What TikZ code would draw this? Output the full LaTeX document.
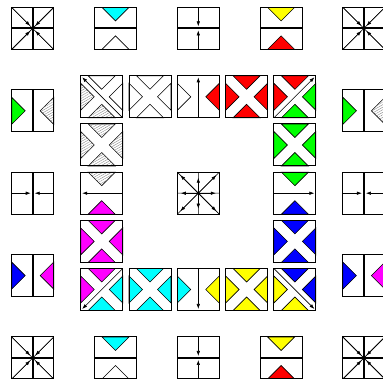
\documentclass[tikz,border=0pt]{standalone}
\usetikzlibrary{arrows.meta,patterns.meta}
\definecolor{cy}{RGB}{0,255,255}
\definecolor{mg}{RGB}{255,0,255}
\definecolor{gr}{RGB}{0,255,0}
\definecolor{ye}{RGB}{255,255,0}
\definecolor{rd}{RGB}{255,0,0}
\definecolor{bl}{RGB}{0,0,255}
\tikzset{
  bord/.style={draw=black, line width=1pt},
  tri/.style={draw=black, line width=0.6pt},
  midline/.style={line width=2pt},
  fine/.style={line width=0.6pt},
  arr/.style={-{Latex[length=5pt,width=3.5pt]}, line width=0.6pt},
  hatchfill/.style={fill=white, postaction={pattern={Lines[angle=30,distance=2.2pt,line width=0.35pt]}, pattern color=gray}},
}
\newcommand{\TrT}[1]{\path[tri,#1] (7.5,0) -- (34.5,0) -- (21,13.5) -- cycle;}
\newcommand{\TrB}[1]{\path[tri,#1] (7.5,42) -- (34.5,42) -- (21,28.5) -- cycle;}
\newcommand{\TrL}[1]{\path[tri,#1] (0,7.5) -- (0,34.5) -- (13.5,21) -- cycle;}
\newcommand{\TrR}[1]{\path[tri,#1] (42,7.5) -- (42,34.5) -- (28.5,21) -- cycle;}
\newcommand{\Xtile}[4]{\TrT{#1}\TrR{#2}\TrB{#3}\TrL{#4}}
\newcommand{\Bord}{\draw[bord] (0,0) rectangle (42,42);}
\newcommand{\StarTile}{%
  \draw[fine] (0,0) -- (42,42) (42,0) -- (0,42);
  \draw[midline] (21,0) -- (21,42) (0,21) -- (42,21);
  \draw[arr] (0,0) -- (18.5,18.5);
  \draw[arr] (42,0) -- (23.5,18.5);
  \draw[arr] (0,42) -- (18.5,23.5);
  \draw[arr] (42,42) -- (23.5,23.5);
  \Bord}
\newcommand{\VArrTile}{%
  \draw[midline] (0,21) -- (42,21);
  \draw[arr] (21,0) -- (21,19);
  \draw[arr] (21,42) -- (21,23);
  \Bord}
\newcommand{\HArrTile}{%
  \draw[midline] (21,0) -- (21,42);
  \draw[arr] (0,21) -- (19,21);
  \draw[arr] (42,21) -- (23,21);
  \Bord}
\newcommand{\TB}[2]{\TrT{#1}\TrB{#2}\draw[midline] (0,21) -- (42,21);\Bord}
\newcommand{\LR}[2]{\TrL{#1}\TrR{#2}\draw[midline] (21,0) -- (21,42);\Bord}
\begin{document}
\begin{tikzpicture}[x=1pt,y=-1pt]
\useasboundingbox (0,0) rectangle (383,379);
\clip (0,0) rectangle (383,379);
\fill[white] (0,0) rectangle (383,379);
% ---------- outer ring ----------
% row 0
\begin{scope}[shift={(11.7,7.4)}]\StarTile\end{scope}
\begin{scope}[shift={(94.5,7.4)}]\TB{fill=cy}{fill=white}\end{scope}
\begin{scope}[shift={(177.3,7.4)}]\VArrTile\end{scope}
\begin{scope}[shift={(260.1,7.4)}]\TB{fill=ye}{fill=rd}\end{scope}
\begin{scope}[shift={(342.9,7.4)}]\StarTile\end{scope}
% row 1
\begin{scope}[shift={(11.7,89.8)}]\LR{fill=gr}{hatchfill}\end{scope}
\begin{scope}[shift={(342.9,89.8)}]\LR{fill=gr}{hatchfill}\end{scope}
% row 2
\begin{scope}[shift={(11.7,172.2)}]\HArrTile\end{scope}
\begin{scope}[shift={(342.9,172.2)}]\HArrTile\end{scope}
% row 3
\begin{scope}[shift={(11.7,254.6)}]\LR{fill=bl}{fill=mg}\end{scope}
\begin{scope}[shift={(342.9,254.6)}]\LR{fill=bl}{fill=mg}\end{scope}
% row 4
\begin{scope}[shift={(11.7,337.0)}]\StarTile\end{scope}
\begin{scope}[shift={(94.5,337.0)}]\TB{fill=cy}{fill=white}\end{scope}
\begin{scope}[shift={(177.3,337.0)}]\VArrTile\end{scope}
\begin{scope}[shift={(260.1,337.0)}]\TB{fill=ye}{fill=rd}\end{scope}
\begin{scope}[shift={(342.9,337.0)}]\StarTile\end{scope}
% ---------- inner ring ----------
% row 0
\begin{scope}[shift={(80.7,75.8)}]\Xtile{fill=white}{fill=white}{hatchfill}{hatchfill}\draw[arr] (42,42) -- (1.5,1.5);\Bord\end{scope}
\begin{scope}[shift={(129.0,75.8)}]\Xtile{fill=white}{fill=white}{fill=white}{fill=white}\Bord\end{scope}
\begin{scope}[shift={(177.3,75.8)}]\TrL{fill=white}\TrR{fill=rd}\draw[arr] (21,42) -- (21,1.5);\Bord\end{scope}
\begin{scope}[shift={(225.6,75.8)}]\Xtile{fill=rd}{fill=rd}{fill=rd}{fill=rd}\Bord\end{scope}
\begin{scope}[shift={(273.9,75.8)}]\Xtile{fill=rd}{fill=gr}{fill=gr}{fill=rd}\draw[arr] (0,42) -- (40.5,1.5);\Bord\end{scope}
% row 1
\begin{scope}[shift={(80.7,124.0)}]\Xtile{hatchfill}{hatchfill}{hatchfill}{hatchfill}\Bord\end{scope}
\begin{scope}[shift={(273.9,124.0)}]\Xtile{fill=gr}{fill=gr}{fill=gr}{fill=gr}\Bord\end{scope}
% row 2
\begin{scope}[shift={(80.7,172.2)}]\TrT{hatchfill}\TrB{fill=mg}\draw[arr] (42,21) -- (1.5,21);\Bord\end{scope}
\begin{scope}[shift={(177.3,172.2)}]
  \draw[fine] (0,0) -- (42,42) (42,0) -- (0,42) (21,0) -- (21,42) (0,21) -- (42,21);
  \draw[arr] (21,21) -- (21,5.5);
  \draw[arr] (21,21) -- (21,36.5);
  \draw[arr] (21,21) -- (3.5,21);
  \draw[arr] (21,21) -- (38.5,21);
  \draw[arr] (21,21) -- (3,3);
  \draw[arr] (21,21) -- (39,3);
  \draw[arr] (21,21) -- (3,39);
  \draw[arr] (21,21) -- (39,39);
  \Bord\end{scope}
\begin{scope}[shift={(273.9,172.2)}]\TrT{fill=gr}\TrB{fill=bl}\draw[arr] (0,21) -- (40.5,21);\Bord\end{scope}
% row 3
\begin{scope}[shift={(80.7,220.4)}]\Xtile{fill=mg}{fill=mg}{fill=mg}{fill=mg}\Bord\end{scope}
\begin{scope}[shift={(273.9,220.4)}]\Xtile{fill=bl}{fill=bl}{fill=bl}{fill=bl}\Bord\end{scope}
% row 4
\begin{scope}[shift={(80.7,268.5)}]\Xtile{fill=mg}{fill=cy}{fill=cy}{fill=mg}\draw[arr] (42,0) -- (1.5,40.5);\Bord\end{scope}
\begin{scope}[shift={(129.0,268.5)}]\Xtile{fill=cy}{fill=cy}{fill=cy}{fill=cy}\Bord\end{scope}
\begin{scope}[shift={(177.3,268.5)}]\TrL{fill=cy}\TrR{fill=ye}\draw[arr] (21,0) -- (21,40.5);\Bord\end{scope}
\begin{scope}[shift={(225.6,268.5)}]\Xtile{fill=ye}{fill=ye}{fill=ye}{fill=ye}\Bord\end{scope}
\begin{scope}[shift={(273.9,268.5)}]\Xtile{fill=bl}{fill=bl}{fill=ye}{fill=ye}\draw[arr] (0,0) -- (40.5,40.5);\Bord\end{scope}
\end{tikzpicture}
\end{document}
